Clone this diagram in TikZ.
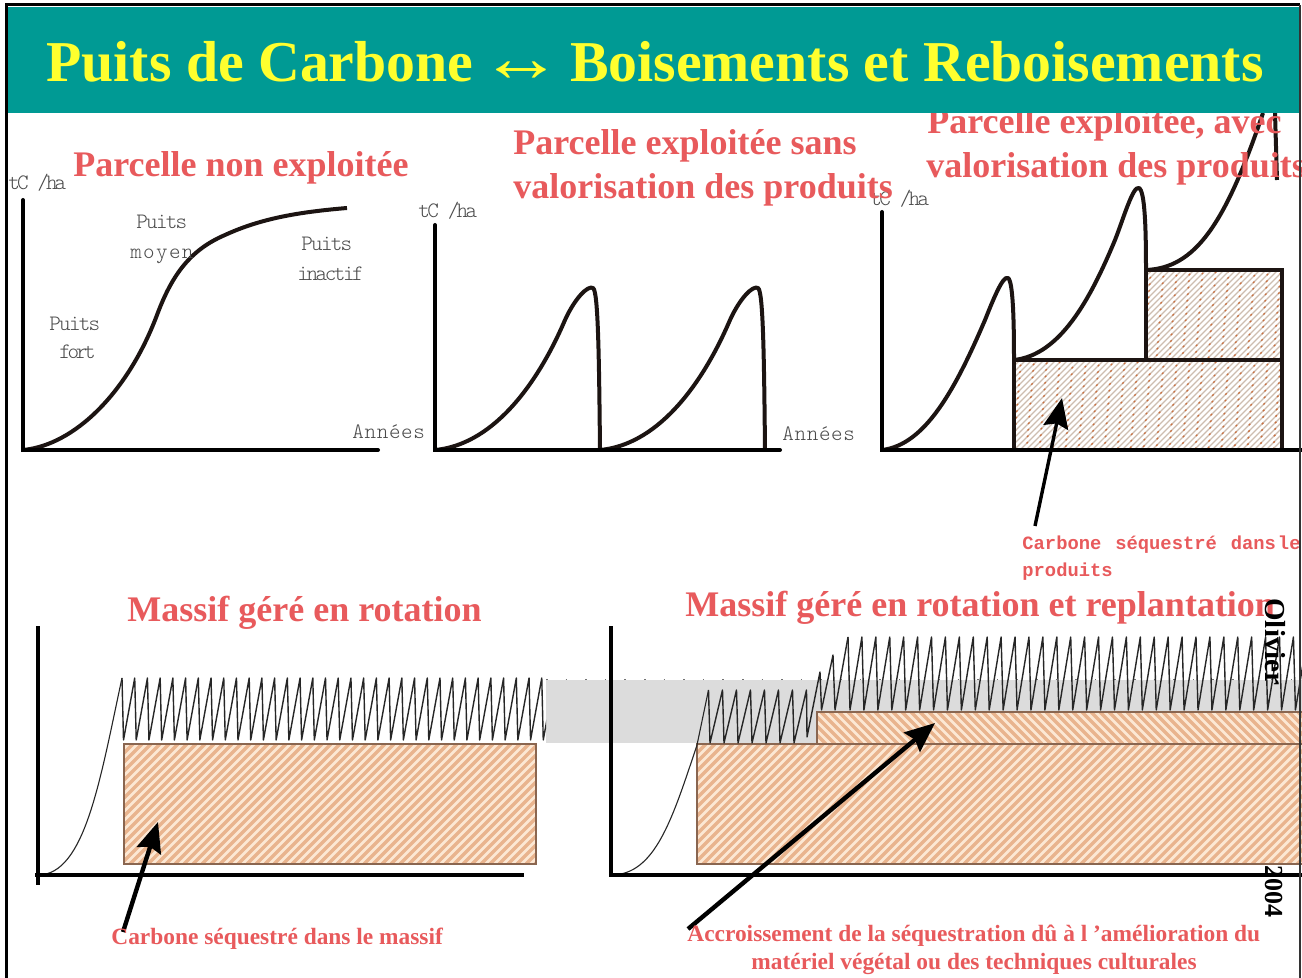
\documentclass[tikz,border=0pt]{standalone}
\usepackage{fontspec}
\usepackage{graphicx}
\usetikzlibrary{arrows.meta}
\setmainfont{Liberation Serif}
\setmonofont{Latin Modern Mono Light}
\newfontfamily\redmono{Liberation Mono}[BoldFont={Liberation Mono Bold}]
\newcommand{\lsp}[1]{\addfontfeatures{LetterSpace=#1}}
\definecolor{teal1}{HTML}{009A94}
\definecolor{yell}{HTML}{FFFF2E}
\definecolor{redt}{HTML}{E85A5C}
\definecolor{curvek}{HTML}{1C1412}
\definecolor{bandg}{HTML}{DCDCDC}
\definecolor{peach}{HTML}{FCE8D4}
\definecolor{stripe}{HTML}{E9B48E}
\definecolor{brownb}{HTML}{8A6650}
\definecolor{graytx}{HTML}{4A4A4A}
\definecolor{finel}{HTML}{CDBDB0}
\definecolor{fined}{HTML}{C87040}
\tikzset{
  axis/.style={line width=2pt,draw=black,line cap=round},
  axisb/.style={line width=2.3pt,draw=black},
  thickc/.style={line width=2pt,draw=curvek,line join=round},
  thinc/.style={line width=.55pt,draw=black!85},
  zig/.style={line width=.7pt,draw=black!85,line join=round},
  boxk/.style={line width=2pt,draw=curvek},
  boxb/.style={line width=.8pt,draw=brownb},
  ttl/.style={anchor=base west,inner sep=0pt,text=redt,font=\fontsize{18}{20}\selectfont\bfseries},
  sub/.style={anchor=base west,inner sep=0pt,text=redt,font=\fontsize{11.7}{13}\selectfont\bfseries},
  mono/.style={anchor=base west,inner sep=0pt,text=graytx,font=\fontsize{11}{12}\selectfont\ttfamily},
  rmono/.style={anchor=base west,inner sep=0pt,text=redt,font=\fontsize{9.4}{11}\selectfont\redmono\bfseries},
  side/.style={anchor=base west,inner sep=0pt,text=black,rotate=-90,font=\bfseries},
  bigarrow/.style={line width=2.2pt,draw=black,-{Stealth[length=15pt,width=12.5pt,inset=2pt]}},
  midarrow/.style={line width=1.7pt,draw=black,-{Stealth[length=15pt,width=12.5pt,inset=2pt]}},
}
% diagonal hatch, bottom charts: #1..#4 corners, #5 = 1 for / and -1 for \
\newcommand{\peachfill}[5]{%
  \begin{scope}
    \clip (#1,#2) rectangle (#3,#4);
    \fill[peach] (#1,#2) rectangle (#3,#4);
    \pgfmathsetmacro{\hh}{#4-#2}
    \pgfmathsetmacro{\xa}{#1-\hh-9}
    \pgfmathsetmacro{\xb}{\xa+9}
    \ifnum#5=1
      \foreach \o in {\xa,\xb,...,#3}
        \draw[stripe,line width=1.6pt] (\o,#4) -- (\o+\hh,#2);
    \else
      \foreach \o in {\xa,\xb,...,#3}
        \draw[stripe,line width=1.6pt] (\o,#2) -- (\o+\hh,#4);
    \fi
  \end{scope}}
% fine dotted hatch, top chart
\newcommand{\finefill}[4]{%
  \begin{scope}
    \clip (#1,#2) rectangle (#3,#4);
    \fill[white] (#1,#2) rectangle (#3,#4);
    \pgfmathsetmacro{\hh}{#4-#2}
    \pgfmathsetmacro{\xa}{#1-\hh-6}
    \pgfmathsetmacro{\xb}{\xa+6}
    \foreach \o in {\xa,\xb,...,#3}{
      \pgfmathsetmacro{\ph}{mod(\o*0.77,10)}
      \draw[draw=finel,line width=.6pt] (\o,#4) -- (\o+\hh,#2);
      \draw[draw=fined,line width=.7pt,dash pattern=on 1pt off 9pt,dash phase=\ph pt] (\o,#4) -- (\o+\hh,#2);
    }
  \end{scope}}
\begin{document}
\begin{tikzpicture}[x=.5pt,y=-.5pt]
\useasboundingbox (0,0) rectangle (1302,978);
\fill[white] (0,0) rectangle (1302,978);

% ---- top left chart
\draw[thickc] (23,450) .. controls (75,445) and (128,392) .. (157,315) .. controls (172,275) and (190,250) .. (225,235) .. controls (262,218) and (300,212) .. (347,208);
\draw[axis] (23,200) -- (23,450) -- (378,450);
\node[mono] (yl1) at (8,190) {\lsp{-13}tC /ha};
\node[mono] (p1a) at (136,229) {\lsp{-8}Puits};
\node[mono] (p1b) at (130,259) {\lsp{6}moyen};
\node[mono] (p2a) at (49,331) {\lsp{-8}Puits};
\node[mono] (p2b) at (59,359) {\lsp{-15}fort};
\node[mono] (p3a) at (301,251) {\lsp{-8}Puits};
\node[mono] (p3b) at (297,281) {\lsp{-11}inactif};
\node[mono] (an1) at (352,439) {\lsp{3}Années};

% ---- top middle chart
\draw[thickc] (435,450) .. controls (490,445) and (535,390) .. (565,320) .. controls (575,298) and (588,285) .. (593,288) .. controls (598,291) and (599,350) .. (600,450);
\draw[thickc] (600,450) .. controls (655,445) and (700,390) .. (730,320) .. controls (740,298) and (753,285) .. (758,288) .. controls (763,291) and (764,350) .. (765,450);
\draw[axis] (435,225) -- (435,450) -- (780,450);
\node[mono] (yl2) at (418,218) {\lsp{-12}tC /ha};
\node[mono] (an2) at (782,441) {\lsp{3}Années};

% ---- top right chart
\finefill{1014}{360}{1282}{450}
\finefill{1146}{270}{1282}{360}
\draw[boxk] (1014,360) rectangle (1282,450);
\draw[boxk] (1146,270) rectangle (1282,360);
\draw[thickc] (882,450) .. controls (925,445) and (955,390) .. (985,320) .. controls (993,300) and (1003,275) .. (1008,278) .. controls (1013,281) and (1014,320) .. (1014,360);
\draw[thickc] (1014,360) .. controls (1060,355) and (1090,300) .. (1115,240) .. controls (1123,220) and (1133,185) .. (1139,188) .. controls (1145,191) and (1146,230) .. (1146,270);
\draw[thickc] (1146,270) .. controls (1195,268) and (1225,225) .. (1263,113);
\draw[thickc] (1275,113) -- (1277,180);
\draw[axis] (882,212) -- (882,450) -- (1302,450);
\node[mono] (yl3) at (870,206) {\lsp{-12}tC /ha};
\coordinate (a1s) at (1035,526);
\coordinate (a1e) at (1062,398);
\draw[midarrow] (a1s) -- (a1e);
\node[rmono] (c1) at (1022,550) {Carbone\hspace{7pt}séquestré\hspace{7pt}dans\hspace{1pt}le};
\node[rmono] (c2) at (1022,577) {produits};

% ---- bottom band
\fill[bandg] (546,680) rectangle (1302,743);
\draw[black!55,line width=.5pt,dash pattern=on .8pt off 9pt] (546,679) -- (1302,679);

% ---- bottom left chart
\peachfill{124}{744}{536}{864}{1}
\draw[boxb] (124,744) rectangle (536,864);
\draw[thinc] (38,875) .. controls (85,875) and (100,780) .. (122,678);
\begin{scope}
\clip (100,660) rectangle (546,760);
\draw[zig] (122,678) \foreach \i in {0,...,33} { -- ({123.5+12.72*\i},740) -- ({122+12.72*(\i+1)},678) };
\end{scope}
\draw[axisb] (38,626) -- (38,885);
\draw[axisb] (35,875) -- (524,875);

% ---- bottom right chart
\peachfill{697}{744}{1302}{864}{1}
\peachfill{817}{712}{1302}{744}{-1}
\draw[boxb] (697,744) rectangle (1310,864);
\draw[boxb] (817,744) |- (1310,712);
\draw[thinc] (611,875) .. controls (655,875) and (672,820) .. (697,745) -- (708.5,690);
\draw[zig] (708.5,690) \foreach \i in {0,...,6} { -- ({710+14*\i},743) -- ({708.5+14*(\i+1)},690) }
  -- (807,737) -- (820,672) -- (821.5,710) -- (833,655) -- (835,710) -- (848,637);
\begin{scope}
\clip (840,620) rectangle (1302,730);
\draw[zig] (848,637) \foreach \i in {0,...,33} { -- ({850+13.92*\i},710) -- ({848+13.92*(\i+1)},637) };
\end{scope}
\draw[axisb] (611,626) -- (611,875) -- (1302,875);
\coordinate (a2s) at (123,932);
\coordinate (a2e) at (158,822);
\draw[bigarrow] (a2s) -- (a2e);
\coordinate (a3s) at (688,929);
\coordinate (a3e) at (935,723);
\draw[bigarrow] (a3s) -- (a3e);

% ---- headings
\node[ttl] (h1) at (73,177) {Parcelle non exploitée};
\node[ttl] (h2) at (513,155) {Parcelle exploitée sans};
\node[ttl] (h3) at (513,199) {valorisation des produits};
\node[ttl] (h4) at (927,134) {Parcelle exploitée, avec};
\node[ttl] (h5) at (926,178) {valorisation des produits};
\node[ttl] (h6) at (127,622) {Massif géré en rotation};
\node[ttl] (h7) at (685,617) {Massif géré en rotation et replantation};
\node[sub] (s1) at (111,944) {Carbone séquestré dans le massif};
\node[sub] (s2) at (687,941) {Accroissement de la séquestration dû à l 'amélioration du};
\node[sub] (s3) at (751,969) {matériel végétal ou des techniques culturales};
\node[side,font=\fontsize{14.5}{15}\selectfont\bfseries] (o1) at (1265,598) {Olivier};
\node[side,font=\fontsize{13}{14}\selectfont\bfseries] (o2) at (1265,865) {2004};

% ---- title band and frame
\fill[teal1] (7,7) rectangle (1299,113);
\node[anchor=base,inner sep=0pt,text=yell,font=\fontsize{28.9}{30}\selectfont\bfseries] (title) at (655,82) {Puits de Carbone\hspace{-4pt} \scalebox{1.45}[1.2]{↔}\hspace{-4pt} Boisements et Reboisements};
\draw[black,line width=1.5pt] (6.5,985) -- (6.5,5) -- (1300,5);
\draw[black!80,line width=1pt] (1300,5) -- (1300,985);
\end{tikzpicture}
\end{document}
